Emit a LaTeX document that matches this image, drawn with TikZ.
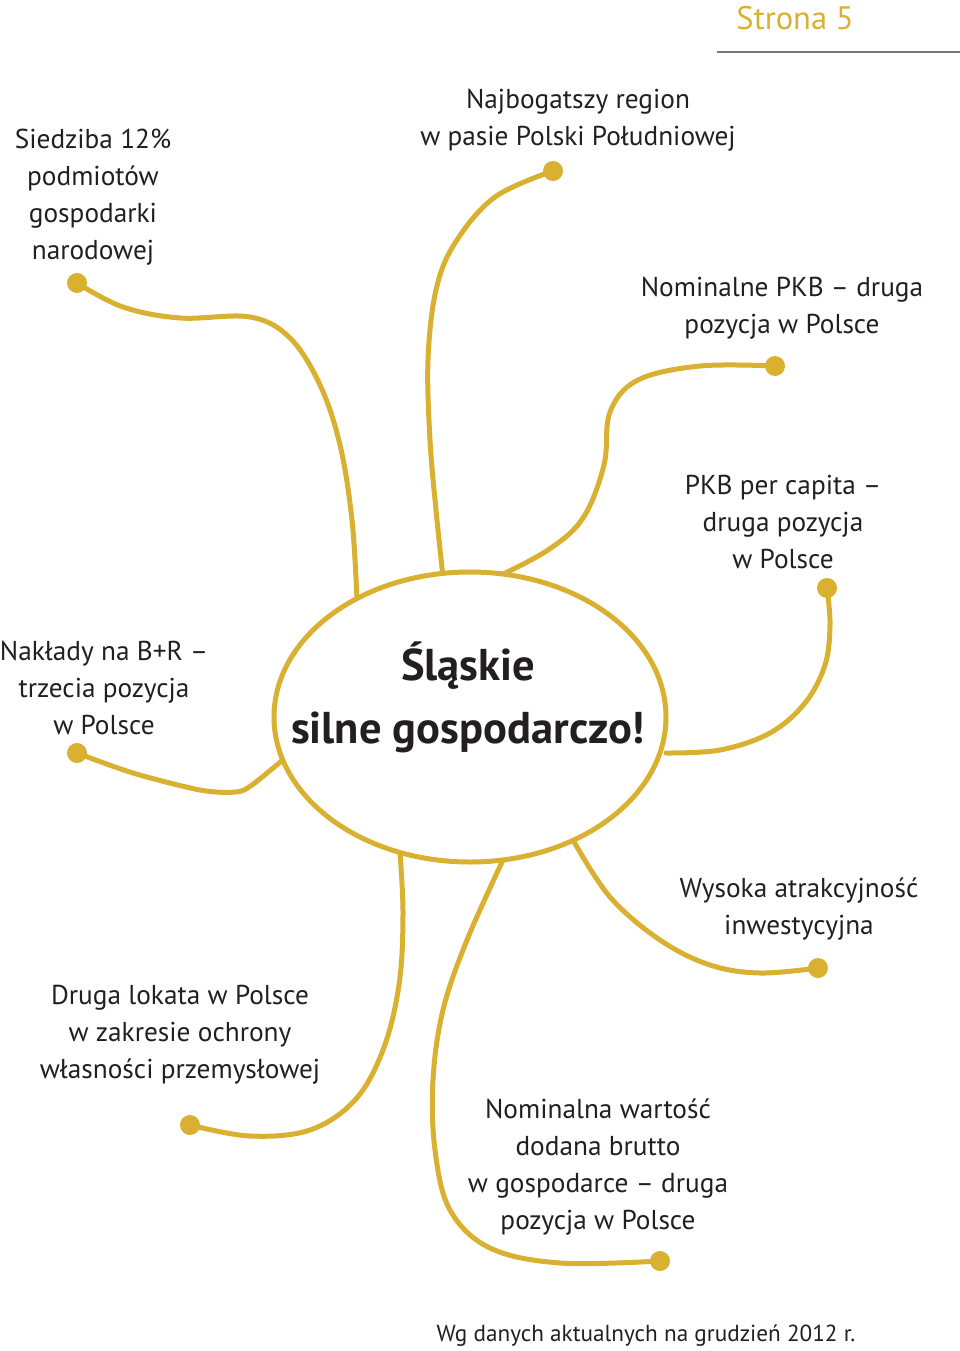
\documentclass[tikz,border=0pt]{standalone}
\usepackage{fontspec}
\setmainfont{PT Sans}
\usetikzlibrary{shapes.geometric}
\definecolor{gold}{RGB}{217,176,48}
\definecolor{ink}{RGB}{35,31,32}
\definecolor{rule}{RGB}{120,120,120}
\tikzset{
  lbl/.style={align=center, inner sep=0pt, text=ink, font=\fontsize{27.3}{37}\selectfont},
  dot/.style={circle, fill=gold, inner sep=0pt, minimum size=20pt},
  link/.style={draw=gold, line width=5pt, line cap=round},
  hub/.style={ellipse, draw=gold, line width=5pt, fill=white, minimum width=392pt, minimum height=290pt, inner sep=0pt},
}
\begin{document}
\begin{tikzpicture}[x=1pt,y=-1pt]
\useasboundingbox (0,0) rectangle (960,1351);
% header
\node[inner sep=0pt, text=gold, font=\fontsize{32.5}{38}\selectfont] (page) at (795,18) {Strona 5};
\coordinate (r1) at (717,52);
\coordinate (r2) at (960,52);
\draw[rule, line width=1.5pt] (r1) -- (r2);
% labels
\node[lbl] (t1) at (93,197) {Siedziba 12\%\\podmiotów\\gospodarki\\narodowej};
\node[lbl] (t2) at (578,120) {Najbogatszy region\\w pasie Polski Południowej};
\node[lbl] (t3) at (782,308) {Nominalne PKB – druga\\pozycja w Polsce};
\node[lbl] (t4) at (783,522) {PKB per capita –\\druga pozycja\\w Polsce};
\node[lbl] (t5) at (104,688) {Nakłady na B+R –\\trzecia pozycja\\w Polsce};
\node[lbl] (t6) at (799,909) {Wysoka atrakcyjność\\inwestycyjna};
\node[lbl] (t7) at (180,1035) {Druga lokata w Polsce\\w zakresie ochrony\\własności przemysłowej};
\node[lbl] (t8) at (598,1167) {Nominalna wartość\\dodana brutto\\w gospodarce – druga\\pozycja w Polsce};
\node[inner sep=0pt, text=ink, font=\fontsize{23.2}{30}\selectfont] (src) at (646,1336) {Wg danych aktualnych na grudzień 2012 r.};
% dots
\node[dot] (d1) at (77,283) {};
\node[dot] (d2) at (553,171) {};
\node[dot] (d3) at (775,366) {};
\node[dot] (d4) at (827,588) {};
\node[dot] (d5) at (77,753) {};
\node[dot] (d6) at (818,968) {};
\node[dot] (d7) at (660,1261) {};
\node[dot] (d8) at (190,1125) {};
% ends on the hub
\coordinate (e1) at (357,600);
\coordinate (e2) at (443,577);
\coordinate (e3) at (497,577);
\coordinate (e4) at (666,753);
\coordinate (e5) at (285,758);
\coordinate (e6) at (573,840);
\coordinate (e7) at (503,860);
\coordinate (e8) at (400,853);
% connectors
\draw[link] plot[smooth, tension=0.6] coordinates {(d1) (123,307) (180,318) (250,317) (290,338) (320,385) (340,445) (352,520) (e1)};
\draw[link] plot[smooth, tension=0.6] coordinates {(d2) (495,197) (455,243) (436,290) (428,360) (430,440) (436,510) (e2)};
\draw[link] plot[smooth, tension=0.6] coordinates {(d3) (700,366) (638,380) (610,412) (604,465) (583,518) (548,550) (e3)};
\draw[link] plot[smooth, tension=0.6] coordinates {(d4) (830,625) (825,665) (805,703) (770,733) (720,750) (e4)};
\draw[link] plot[smooth, tension=0.5] coordinates {(d5) (133,773) (200,790) (236,792) (252,785) (e5)};
\draw[link] plot[smooth, tension=0.6] coordinates {(e6) (610,897) (660,940) (710,965) (760,973) (d6)};
\draw[link] plot[smooth, tension=0.6] coordinates {(e7) (467,940) (443,1010) (433,1080) (435,1150) (450,1210) (490,1248) (560,1263) (d7)};
\draw[link] plot[smooth, tension=0.6] coordinates {(e8) (403,915) (399,985) (383,1050) (355,1100) (310,1130) (250,1136) (d8)};
% hub
\node[hub] (hub) at (470,717) {};
\node[inner sep=0pt, align=center, text=ink, font=\bfseries\fontsize{44.5}{63}\selectfont] (title) at (468,697) {Śląskie\\silne gospodarczo!};
\end{tikzpicture}
\end{document}
